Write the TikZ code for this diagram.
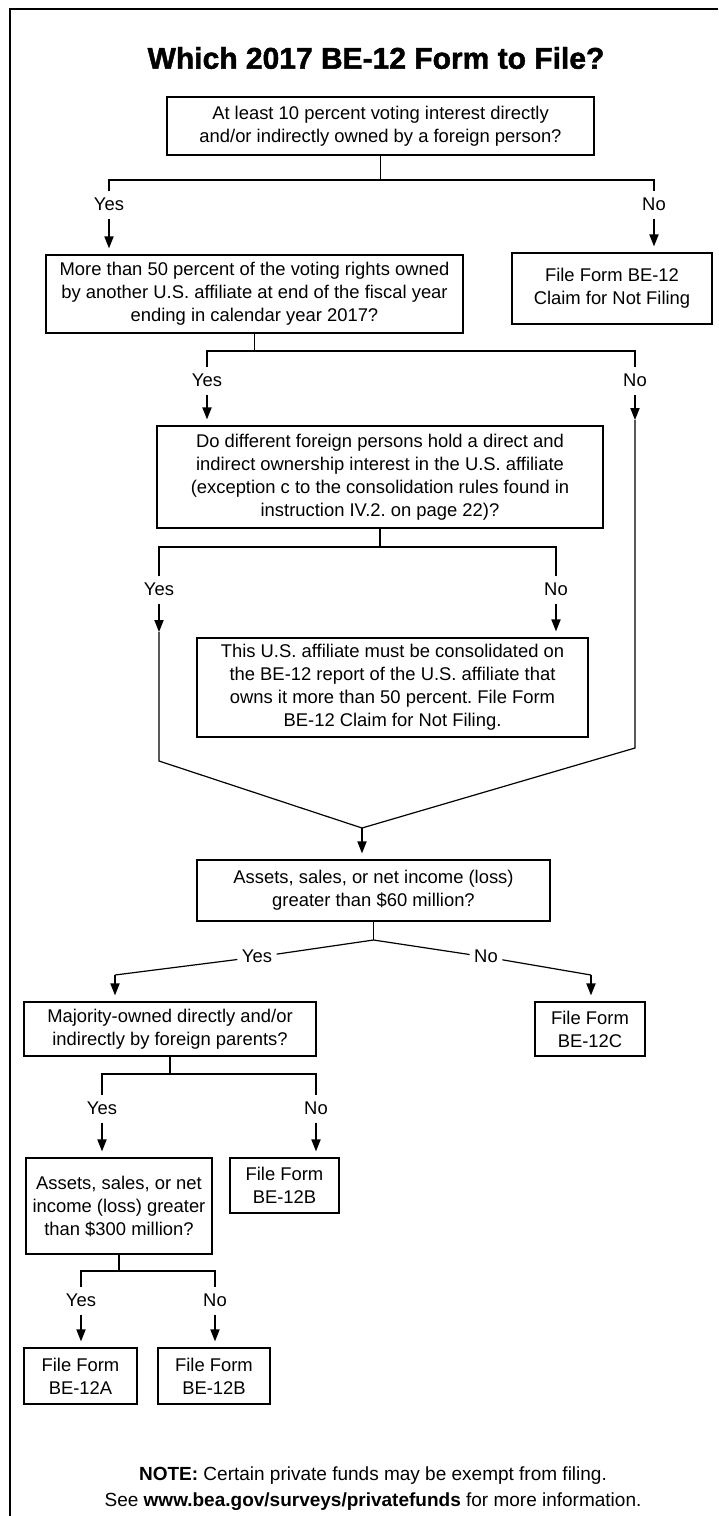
\documentclass[tikz,border=0pt]{standalone}
\usepackage{fontspec}
\setmainfont{Liberation Sans}
\newfontfamily\titlefont[FakeBold=1.6]{Liberation Sans Bold}
\usepackage{tikz}
\usetikzlibrary{arrows.meta}
\frenchspacing

\begin{document}
\begin{tikzpicture}[x=0.5pt, y=-0.5pt, line width=0.6pt, font=\fontsize{9.2}{11.5}\selectfont,
    box/.style={draw, align=center, inner sep=2pt},
    lbl/.style={inner sep=2pt, text height=7pt, text depth=2pt},
    arr/.style={-{Triangle[length=6pt, width=4.6pt]}, shorten >=3pt}]

      \useasboundingbox (0,0) rectangle (718,1516);
      \draw[line width=1pt] (10,1516) -- (10,9) -- (718,9);

      \node[font=\fontsize{15}{18}\titlefont] (T) at (376, 58) {Which 2017 BE-12 Form to File?};

      \node[box, minimum width=213.5pt, minimum height=29pt]   (Q1) at (380.5,  126)  {At least 10 percent voting interest directly \\ and/or indirectly owned by a foreign person?};
      \node[box, minimum width=100pt,   minimum height=35.5pt] (F1) at (612,    288.5) {File Form BE-12 \\ Claim for Not Filing};
      \node[box, minimum width=208.5pt, minimum height=39pt]   (Q2) at (254.5,  294)  {More than 50 percent of the voting rights owned \\ by another U.S. affiliate at end of the fiscal year \\ ending in calendar year 2017?};
      \node[box, minimum width=223pt,   minimum height=51pt]   (Q3) at (380,    477)  {Do different foreign persons hold a direct and \\ indirect ownership interest in the U.S. affiliate \\ (exception c to the consolidation rules found in \\ instruction IV.2. on page 22)?};
      \node[box, minimum width=195.5pt, minimum height=49.5pt] (F2) at (392.5,  687.5) {This U.S. affiliate must be consolidated on \\ the BE-12 report of the U.S. affiliate that \\ owns it more than 50 percent. File Form \\ BE-12 Claim for Not Filing.};
      \node[box, minimum width=176.5pt, minimum height=30.5pt] (Q4) at (373.5,  890.5) {Assets, sales, or net income (loss) \\ greater than \$60 million?};
      \node[box, minimum width=146pt,   minimum height=27pt]   (Q5) at (170,   1029)  {Majority-owned directly and/or \\ indirectly by foreign parents?};
      \node[box, minimum width=55pt,    minimum height=27pt]   (F3) at (590,   1029)  {File Form \\ BE-12C};
      \node[box, minimum width=93pt,    minimum height=48pt]   (Q6) at (119,   1206)  {Assets, sales, or net \\ income (loss) greater \\ than \$300 million?};
      \node[box, minimum width=54.5pt,  minimum height=27.5pt] (F4) at (284.5, 1185.5) {File Form \\ BE-12B};
      \node[box, minimum width=56.5pt,  minimum height=28pt]   (F5) at (80.5,  1376)  {File Form \\ BE-12A};
      \node[box, minimum width=56pt,    minimum height=28pt]   (F6) at (214,   1376)  {File Form \\ BE-12B};

      \node[align=center, font=\fontsize{9.5}{13}\selectfont] (note) at (373, 1489) {\textbf{NOTE:} Certain private funds may be exempt from filing. \\ See \textbf{www.bea.gov/surveys/privatefunds} for more information.};

      \node[lbl] (Y1) at (109,  205) {Yes};
      \node[lbl] (N1) at (654,  205) {No};
      \node[lbl] (Y2) at (207,  381) {Yes};
      \node[lbl] (N2) at (635,  381) {No};
      \node[lbl] (Y3) at (159,  590) {Yes};
      \node[lbl] (N3) at (556,  590) {No};
      \node[lbl] (Y4) at (257,  957) {Yes};
      \node[lbl] (N4) at (486,  957) {No};
      \node[lbl] (Y5) at (102, 1109) {Yes};
      \node[lbl] (N5) at (316, 1109) {No};
      \node[lbl] (Y6) at (81,  1301) {Yes};
      \node[lbl] (N6) at (215, 1301) {No};

      \coordinate (J1) at (380.5, 180);
      \coordinate (J2) at (254.5, 351);
      \coordinate (T2) at (635,   420);
      \coordinate (K2) at (635,   748);
      \coordinate (J3) at (380,   547);
      \coordinate (T3) at (159,   632);
      \coordinate (K3) at (159,   761);
      \coordinate (M)  at (362,   828);
      \coordinate (J4) at (373.5, 940);
      \coordinate (C4) at (115,   975);
      \coordinate (D4) at (591,   975);
      \coordinate (J5) at (170,  1074);
      \coordinate (J6) at (119,  1271);

      \draw (Q1) -- (J1);
      \draw (Y1) |- (J1) -| (N1);
      \draw[arr] (Y1) -- (Y1 |- Q2.north);
      \draw[arr] (N1) -- (N1 |- F1.north);

      \draw (Q2) -- (J2);
      \draw (Y2) |- (J2) -| (N2);
      \draw[arr] (Y2) -- (Y2 |- Q3.north);
      \draw[arr, shorten >=0pt] (N2) -- (T2);
      \draw (T2) -- (K2) -- (M);

      \draw (Q3) -- (J3);
      \draw (Y3) |- (J3) -| (N3);
      \draw[arr] (N3) -- (N3 |- F2.north);
      \draw[arr, shorten >=0pt] (Y3) -- (T3);
      \draw (T3) -- (K3) -- (M);

      \draw[arr] (M) -- (M |- Q4.north);

      \draw (Q4) -- (J4);
      \draw (J4) -- (Y4) -- (C4);
      \draw (J4) -- (N4) -- (D4);
      \draw[arr] (C4) -- (C4 |- Q5.north);
      \draw[arr] (D4) -- (D4 |- F3.north);

      \draw (Q5) -- (J5);
      \draw (Y5) |- (J5) -| (N5);
      \draw[arr] (Y5) -- (Y5 |- Q6.north);
      \draw[arr] (N5) -- (N5 |- F4.north);

      \draw (Q6) -- (J6);
      \draw (Y6) |- (J6) -| (N6);
      \draw[arr] (Y6) -- (Y6 |- F5.north);
      \draw[arr] (N6) -- (N6 |- F6.north);
    \end{tikzpicture}
\end{document}
